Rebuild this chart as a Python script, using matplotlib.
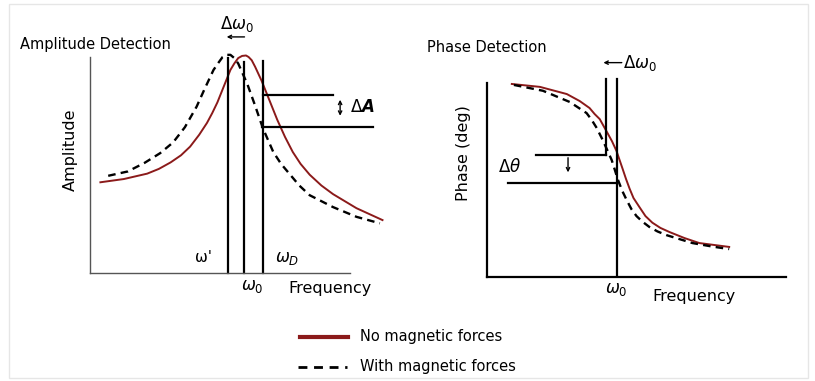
import matplotlib.pyplot as plt
from matplotlib.patches import Rectangle

# amplitude detection: resonance curves (arbitrary units)
amp_freq_free = [0.4, 1.3, 2.2, 2.65, 3.1, 3.5, 3.85, 4.2, 4.5, 4.7, 4.9, 5.1, 5.25,
                 5.4, 5.55, 5.7, 5.85, 6.0, 6.1, 6.22, 6.35, 6.6, 6.85, 7.2, 7.5,
                 7.8, 8.1, 8.45, 8.9, 9.35, 10.25, 11.25]
amp_free = [4.2, 4.35, 4.6, 4.82, 5.12, 5.45, 5.85, 6.4, 6.95, 7.4, 7.9, 8.5, 8.95,
            9.4, 9.7, 9.95, 10.05, 10.07, 10.0, 9.85, 9.55, 8.9, 8.15, 7.1, 6.3,
            5.6, 5.05, 4.55, 4.05, 3.65, 3.0, 2.45]
amp_freq_mag = [0.7, 1.45, 2.1, 2.7, 3.2, 3.65, 4.1, 4.4, 4.75, 4.95, 5.1, 5.25, 5.4,
                5.55, 5.7, 6.05, 6.35, 6.65, 7.05, 7.35, 7.7, 8.05, 8.45, 9.35,
                10.25, 11.15]
amp_mag = [4.5, 4.7, 5.1, 5.55, 6.05, 6.75, 7.7, 8.5, 9.4, 9.75, 10.0, 10.1, 10.1,
           9.95, 9.7, 8.75, 7.75, 6.7, 5.6, 5.05, 4.55, 4.05, 3.6, 3.05, 2.6, 2.3]

# frequency markers: omega', omega_0, omega_D
amp_markers = [5.3, 5.93, 6.67]
amp_marker_tops = [9.95, 9.77, 9.8]
amp_levels = [8.24, 6.76]

# phase detection curves
ph_freq_free = [0.83, 1.77, 2.67, 3.1, 3.43, 3.6, 3.77, 3.9, 4.03, 4.18, 4.33, 4.43,
                4.53, 4.65, 4.77, 4.9, 5.1, 5.3, 5.53, 5.8, 6.1, 6.6, 7.1, 8.1]
ph_free = [9.95, 9.8, 9.43, 9.07, 8.71, 8.4, 8.14, 7.78, 7.42, 7.0, 6.5, 6.05,
           5.6, 5.05, 4.55, 4.07, 3.6, 3.14, 2.8, 2.53, 2.32, 2.01, 1.75, 1.55]
ph_freq_mag = [0.9, 1.87, 2.77, 3.33, 3.5, 3.67, 3.87, 4.02, 4.17, 4.27, 4.37, 4.52,
               4.67, 4.83, 5.0, 5.2, 5.43, 5.7, 6.0, 6.87, 7.53, 8.1]
ph_mag = [9.9, 9.6, 9.02, 8.45, 8.1, 7.68, 7.06, 6.55, 6.03, 5.55, 5.05, 4.45,
          3.97, 3.5, 3.14, 2.85, 2.58, 2.35, 2.16, 1.75, 1.57, 1.44]
ph_w0 = 4.34
ph_w0_shift = 3.97
ph_levels = [6.29, 4.86]

red = '#8b1a1a'
dash = (0, (3.2, 2.2))

W, H = 815, 381
fig = plt.figure(figsize=(W / 100, H / 100), dpi=100)


def fx(px):
    return px / W


def fy(py):
    return 1 - py / H


# faint frame
fig.patches.append(Rectangle((fx(9), fy(378)), fx(799), fy(4) - fy(378),
                             transform=fig.transFigure, fill=False,
                             edgecolor='#e6e6e6', lw=1))

# ---- left panel ----
ax1 = fig.add_axes([fx(90), fy(273), 12 * 26 / W, 10.5 * 21.6 / H])
ax1.set_xlim(0, 12)
ax1.set_ylim(0, 10.5)
ax1.plot(amp_freq_free, amp_free, color=red, lw=1.4, clip_on=False)
ax1.plot(amp_freq_mag, amp_mag, color='black', lw=1.7, ls=dash, clip_on=False)
for f, top in zip(amp_markers, amp_marker_tops):
    ax1.plot([f, f], [0, top], color='black', lw=1.6, clip_on=False)
ax1.plot([amp_markers[2], 9.35], [amp_levels[0]] * 2, color='black', lw=1.6)
ax1.plot([6.62, 10.88], [amp_levels[1]] * 2, color='black', lw=1.6, clip_on=False)
ax1.annotate('', xy=(9.62, 7.15), xytext=(9.62, 8.15),
             arrowprops=dict(arrowstyle='<->', lw=1, color='black',
                             mutation_scale=6))
ax1.annotate('', xy=(5.15, 10.93), xytext=(6.05, 10.93), annotation_clip=False,
             arrowprops=dict(arrowstyle='->', lw=1, color='black',
                             mutation_scale=6))
for side in ['top', 'right']:
    ax1.spines[side].set_visible(False)
for side in ['left', 'bottom']:
    ax1.spines[side].set_color('#555555')
    ax1.spines[side].set_linewidth(1)
ax1.spines['left'].set_bounds(0, 10)
ax1.spines['bottom'].set_bounds(0, 10)
ax1.set_xticks([])
ax1.set_yticks([])
ax1.patch.set_visible(False)

# ---- right panel ----
ax2 = fig.add_axes([fx(487), fy(277), 10.3 * 29.9 / W, 10.5 * 19.4 / H])
ax2.set_xlim(0, 10.3)
ax2.set_ylim(0, 10.5)
ax2.plot(ph_freq_free, ph_free, color=red, lw=1.4)
ax2.plot(ph_freq_mag, ph_mag, color='black', lw=1.7, ls=dash)
ax2.plot([ph_w0, ph_w0], [0, 10.2], color='black', lw=1.6)
ax2.plot([ph_w0_shift, ph_w0_shift], [ph_levels[0], 10.2], color='black', lw=1.6)
ax2.plot([1.63, ph_w0_shift], [ph_levels[0]] * 2, color='black', lw=1.6)
ax2.plot([0.7, ph_w0], [ph_levels[1]] * 2, color='black', lw=1.6)
ax2.annotate('', xy=(2.71, 5.25), xytext=(2.71, 6.29),
             arrowprops=dict(arrowstyle='->', lw=1, color='black',
                             mutation_scale=6))
ax2.annotate('', xy=(3.8, 11.05), xytext=(4.6, 11.05), annotation_clip=False,
             arrowprops=dict(arrowstyle='->', lw=1, color='black',
                             mutation_scale=6))
for side in ['top', 'right']:
    ax2.spines[side].set_visible(False)
for side in ['left', 'bottom']:
    ax2.spines[side].set_color('black')
    ax2.spines[side].set_linewidth(1.6)
ax2.spines['left'].set_bounds(0, 10)
ax2.spines['bottom'].set_bounds(0, 10)
ax2.set_xticks([])
ax2.set_yticks([])
ax2.patch.set_visible(False)

# ---- text ----
def label(px, py, s, size=10.5, **kw):
    fig.text(fx(px), fy(py), s, fontsize=size, va='center', **kw)


label(20, 45, 'Amplitude Detection', size=10.5)
label(237, 24, r'$\Delta\omega_0$', size=12, ha='center')
label(70, 150, 'Amplitude', size=11.5, ha='center', rotation=90)
label(350, 107, r'$\Delta \boldsymbol{A}$', size=12)
label(203, 257, "ω'", size=11, ha='center')
label(287, 258, r'$\omega_D$', size=12, ha='center')
label(252, 286, r'$\omega_0$', size=12, ha='center')
label(288, 289, 'Frequency', size=11.5)

label(427, 48, 'Phase Detection', size=10.5)
label(623, 63, r'$\Delta\omega_0$', size=12)
label(463, 153, 'Phase (deg)', size=11.5, ha='center', rotation=90)
label(510, 167, r'$\Delta\theta$', size=12, ha='center')
label(616, 289, r'$\omega_0$', size=12, ha='center')
label(652, 296, 'Frequency', size=11.5)

# ---- legend ----
fig.lines.append(plt.Line2D([fx(300), fx(348)], [fy(337)] * 2, color=red, lw=3,
                            transform=fig.transFigure))
fig.lines.append(plt.Line2D([fx(298), fx(347)], [fy(367)] * 2, color='black',
                            lw=2, ls=(0, (3.2, 2.4)), transform=fig.transFigure))
label(360, 337, 'No magnetic forces', size=10.5)
label(360, 367, 'With magnetic forces', size=10.5)

fig.savefig('out.png', dpi=100)
